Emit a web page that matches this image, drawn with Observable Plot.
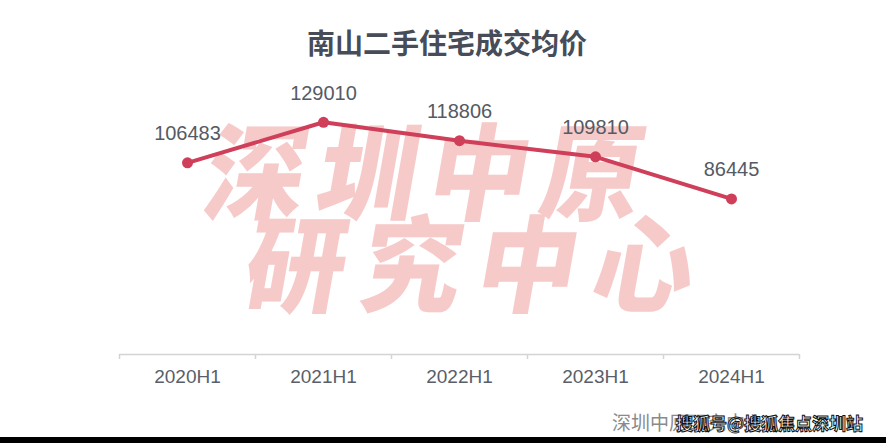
<!DOCTYPE html>
<html>
<head>
<meta charset="utf-8">
<script src="https://cdn.jsdelivr.net/npm/d3@7"></script>
<script src="https://cdn.jsdelivr.net/npm/@observablehq/plot@0.6"></script>
<style>
  html, body { margin: 0; padding: 0; background: #fff; }
  #wrap { position: relative; width: 886px; height: 443px; overflow: hidden; background: #fff; font-family: "Noto Sans CJK SC", "Noto Sans", sans-serif; }
  #title { position: absolute; left: 0; top: 0; width: 886px; height: 70px; text-align: center; }
  #title span { position: absolute; left: 447px; top: 42px; transform: translate(-50%, -50%); font-size: 28px; font-weight: 700; color: #474c59; white-space: nowrap; }
  #wm { position: absolute; left: 0; top: 0; width: 886px; height: 443px; z-index: 0; }
  #chart { position: absolute; left: 0; top: 70px; z-index: 1; }
  #foot { position: absolute; left: 612px; top: 421px; transform: translateY(-50%); font-size: 19px; color: #8a8a8a; white-space: nowrap; z-index: 2; }
  #sohu { position: absolute; left: 676px; top: 422px; transform: translateY(-50%); font-size: 17px; font-weight: 700; color: #fff; -webkit-text-stroke: 1px #111; white-space: nowrap; z-index: 3; }
  #bar { position: absolute; left: 0; top: 437px; width: 886px; height: 6px; background: #000; z-index: 4; }
</style>
</head>
<body>
<div id="wrap">
  <svg id="wm" width="886" height="443">
    <g fill="#f7caca" font-family="Noto Sans CJK SC, sans-serif" font-weight="900" font-size="100">
      <text x="0" y="0" transform="translate(200,212) skewX(-10) scale(1,1.05)" letter-spacing="12">深圳中原</text>
      <text x="0" y="0" transform="translate(240,304) skewX(-10) scale(1,1.05)" letter-spacing="16">研究中心</text>
    </g>
  </svg>
  <div id="title"><span>南山二手住宅成交均价</span></div>
  <div id="chart"></div>
  <div id="foot">深圳中原研究中心</div>
  <div id="sohu">搜狐号@搜狐焦点深圳站</div>
  <div id="bar"></div>
</div>
<script>
const periods = ["2020H1", "2021H1", "2022H1", "2023H1", "2024H1"];
const prices = [106483, 129010, 118806, 109810, 86445];

const data = periods.map((p, i) => ({i, period: p, price: prices[i]}));
const lineColor = "#cf3f5a";
const n = periods.length;

const chart = Plot.plot({
  width: 886,
  height: 330,
  marginLeft: 119,
  marginRight: 87,
  marginTop: 32,
  marginBottom: 46,
  style: {background: "transparent", fontFamily: "Liberation Sans, Arial, sans-serif"},
  x: {domain: [-0.5, n - 0.5], label: null},
  y: {domain: [0, 140000], axis: null, label: null},
  marks: [
    Plot.ruleY([0], {stroke: "#d4d4d4", strokeWidth: 1.5}),
    Plot.axisX({ticks: d3.range(n + 1).map(i => i - 0.5), tickSize: 5, tickFormat: () => "", stroke: "#d4d4d4", strokeWidth: 1.5, label: null}),
    Plot.axisX({ticks: d3.range(n), tickSize: 0, tickPadding: 15, tickFormat: i => periods[i], fontSize: 19, fill: "#5a5e68", label: null}),
    Plot.line(data, {x: "i", y: "price", stroke: lineColor, strokeWidth: 4}),
    Plot.dot(data, {x: "i", y: "price", r: 5.5, fill: lineColor}),
    Plot.text(data, {x: "i", y: "price", text: d => String(d.price), dy: -29, fontSize: 20, fill: "#555a64"})
  ]
});
document.getElementById("chart").appendChild(chart);
</script>
</body>
</html>
